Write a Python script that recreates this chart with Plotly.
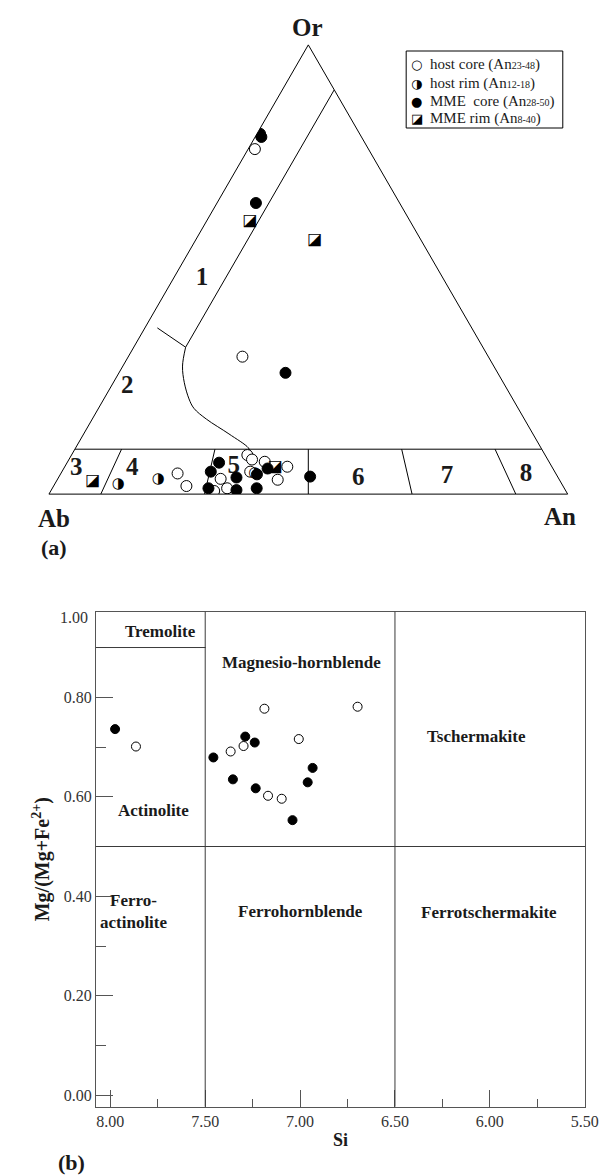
import plotly.graph_objects as go

W, H = 612, 1175

# ---------------- Panel (a): feldspar ternary (values in %, Ab = 100 - Or - An) ----------------
host_core_or = [76.8, 30.6, 4.6, 1.8, 3.4, 0.7, 1.3, 8.7, 7.7, 5.0, 7.2, 6.1, 3.2]
host_core_an = [1.3, 22.0, 22.5, 25.6, 31.4, 31.5, 33.7, 33.9, 35.3, 36.3, 38.0, 42.9, 42.5]
host_rim_or = [2.3, 3.4, 4.6]
host_rim_an = [12.2, 19.4, 37.4]
mme_core_or = [80.2, 79.5, 64.8, 27.0, 7.0, 5.0, 1.3, 0.9, 3.7, 4.4, 5.7, 1.3, 3.9]
mme_core_an = [0.6, 1.2, 7.5, 32.1, 29.3, 28.7, 30.1, 35.7, 34.3, 37.9, 39.3, 39.4, 48.4]
mme_rim_or = [60.9, 56.5, 2.9, 6.1]
mme_rim_an = [8.3, 23.0, 7.0, 40.6]

# field boundaries
plag_or_limit = 10.0
plag_an_divisions = [10, 30, 50, 70, 90]
san_an = 10.0
san_or_range = [90.0, 32.7]
tick_or = [37.0, 32.7]
tick_an = [2.4, 10.0]
curve_or = [32.7, 28.5, 24.8, 21.2, 19.1, 16.7, 13.4, 10.3, 9.5]
curve_an = [10.0, 11.5, 13.7, 16.4, 18.4, 22.0, 28.0, 33.3, 34.0]

field_names = ["1", "2", "3", "4", "5", "6", "7", "8"]
field_or = [48.0, 23.8, 5.7, 5.7, 6.1, 3.5, 3.9, 4.3]
field_an = [5.5, 3.2, 2.4, 13.2, 32.6, 57.9, 74.8, 89.8]

legend_labels = ["host core (An<span style='font-size:10px'>23-48</span>)",
                 "host rim (An<span style='font-size:10px'>12-18</span>)",
                 "MME  core (An<span style='font-size:10px'>28-50</span>)",
                 "MME rim (An<span style='font-size:10px'>8-40</span>)"]
legend_glyphs = ["○", "◑", "●", "◪"]

# ---------------- Panel (b): amphibole classification ----------------
mme_si = [7.975, 7.457, 7.289, 7.239, 7.354, 7.234, 7.040, 6.934, 6.960]
mme_mg = [0.736, 0.679, 0.721, 0.709, 0.635, 0.617, 0.553, 0.658, 0.629]
host_si = [7.865, 7.366, 7.298, 7.188, 7.169, 7.097, 7.007, 6.697]
host_mg = [0.701, 0.691, 0.702, 0.777, 0.602, 0.596, 0.716, 0.781]

si_bounds = [7.5, 6.5]
mg_bound = 0.5
tremolite_bound = 0.9

region_names = ["Tremolite", "Magnesio-hornblende", "Tschermakite", "Actinolite",
                "Ferro-<br>actinolite", "Ferrohornblende", "Ferrotschermakite"]
region_si = [7.737, 6.990, 6.072, 7.774, 7.88, 6.996, 6.007]
region_mg = [0.932, 0.870, 0.721, 0.572, 0.37, 0.370, 0.368]

x_tickvals = [8.0, 7.5, 7.0, 6.5, 6.0, 5.5]
y_tickvals = [0.0, 0.2, 0.4, 0.6, 0.8, 1.0]

SERIF = "Liberation Serif"
SYM = "DejaVu Sans"

fig = go.Figure()


def ab(or_list, an_list):
    return [100 - o - a for o, a in zip(or_list, an_list)]


line_style = dict(color="black", width=1)

# plagioclase strip top line
fig.add_trace(go.Scatterternary(a=[plag_or_limit, plag_or_limit], c=[0, 100 - plag_or_limit],
                                b=[100 - plag_or_limit, 0], mode="lines", line=line_style,
                                showlegend=False, hoverinfo="skip"))
# plagioclase dividers (converge on Or apex)
for an0 in plag_an_divisions:
    a_vals = [0, plag_or_limit]
    c_vals = [an0, an0 * (100 - plag_or_limit) / 100]
    fig.add_trace(go.Scatterternary(a=a_vals, c=c_vals, b=ab(a_vals, c_vals), mode="lines",
                                    line=line_style, showlegend=False, hoverinfo="skip"))
# sanidine boundary
c_vals = [san_an, san_an]
fig.add_trace(go.Scatterternary(a=san_or_range, c=c_vals, b=ab(san_or_range, c_vals), mode="lines",
                                line=line_style, showlegend=False, hoverinfo="skip"))
fig.add_trace(go.Scatterternary(a=tick_or, c=tick_an, b=ab(tick_or, tick_an), mode="lines",
                                line=line_style, showlegend=False, hoverinfo="skip"))
fig.add_trace(go.Scatterternary(a=curve_or, c=curve_an, b=ab(curve_or, curve_an), mode="lines",
                                line=dict(color="black", width=1, shape="spline"),
                                showlegend=False, hoverinfo="skip"))

# field numbers
fig.add_trace(go.Scatterternary(a=field_or, c=field_an, b=ab(field_or, field_an), mode="text",
                                text=[f"<b>{n}</b>" for n in field_names], textposition="middle center",
                                textfont=dict(family=SERIF, size=25, color="#1a1a1a"),
                                showlegend=False, hoverinfo="skip"))

# data points
fig.add_trace(go.Scatterternary(a=host_core_or, c=host_core_an, b=ab(host_core_or, host_core_an),
                                mode="markers", marker=dict(symbol="circle", size=11, color="white",
                                                            line=dict(color="black", width=1)),
                                showlegend=False))
fig.add_trace(go.Scatterternary(a=mme_core_or, c=mme_core_an, b=ab(mme_core_or, mme_core_an),
                                mode="markers", marker=dict(symbol="circle", size=11, color="black",
                                                            line=dict(color="black", width=1)),
                                showlegend=False))
fig.add_trace(go.Scatterternary(a=host_rim_or, c=host_rim_an, b=ab(host_rim_or, host_rim_an),
                                mode="text", text=[legend_glyphs[1]] * len(host_rim_or),
                                textposition="middle center",
                                textfont=dict(family=SYM, size=15, color="black"), showlegend=False))
fig.add_trace(go.Scatterternary(a=mme_rim_or, c=mme_rim_an, b=ab(mme_rim_or, mme_rim_an),
                                mode="text", text=[legend_glyphs[3]] * len(mme_rim_or),
                                textposition="middle center",
                                textfont=dict(family=SYM, size=16, color="black"), showlegend=False))

axis_t = dict(showticklabels=False, ticks="", showgrid=False, showline=True,
              linecolor="black", linewidth=1, title=dict(text=""))

# ---------------- Panel (b) traces ----------------
fig.add_trace(go.Scatter(x=host_si, y=host_mg, mode="markers", xaxis="x", yaxis="y",
                         marker=dict(symbol="circle", size=9, color="white",
                                     line=dict(color="black", width=1)), showlegend=False))
fig.add_trace(go.Scatter(x=mme_si, y=mme_mg, mode="markers", xaxis="x", yaxis="y",
                         marker=dict(symbol="circle", size=9, color="black",
                                     line=dict(color="black", width=1)), showlegend=False))

shapes = []
bcol = "#3a3a3a"
for s in si_bounds:
    shapes.append(dict(type="line", xref="x", yref="y domain", x0=s, x1=s, y0=0, y1=1,
                       line=dict(color=bcol, width=1)))
shapes.append(dict(type="line", xref="x domain", yref="y", x0=0, x1=1, y0=mg_bound, y1=mg_bound,
                   line=dict(color=bcol, width=1)))
shapes.append(dict(type="line", xref="x domain", yref="y", x0=0, y0=tremolite_bound,
                   x1=0.2243, y1=tremolite_bound, line=dict(color=bcol, width=1)))
# legend box
shapes.append(dict(type="rect", xref="paper", yref="paper", x0=415 / W, x1=575 / W,
                   y0=1 - 128 / H, y1=1 - 51 / H, line=dict(color="black", width=1),
                   fillcolor="white", layer="below"))

annotations = []
for i, (g, t) in enumerate(zip(legend_glyphs, legend_labels)):
    yy = 1 - (65 + 18 * i) / H
    annotations.append(dict(xref="paper", yref="paper", x=426 / W, y=yy, text=g, showarrow=False,
                            font=dict(family=SYM, size=13, color="black"), xanchor="center",
                            yanchor="middle"))
    annotations.append(dict(xref="paper", yref="paper", x=437 / W, y=yy, text=t, showarrow=False,
                            font=dict(family=SERIF, size=15, color="#1a1a1a"), xanchor="left",
                            yanchor="middle"))

# corner labels and panel labels
for txt, px, py in [("Or", 314, 28), ("Ab", 55, 518), ("An", 572, 516)]:
    annotations.append(dict(xref="paper", yref="paper", x=px / W, y=1 - py / H, text=f"<b>{txt}</b>",
                            showarrow=False, font=dict(family=SERIF, size=25, color="#1a1a1a"),
                            xanchor="center", yanchor="middle"))
for txt, px, py in [("(a)", 55, 548), ("(b)", 73, 1162)]:
    annotations.append(dict(xref="paper", yref="paper", x=px / W, y=1 - py / H, text=f"<b>{txt}</b>",
                            showarrow=False, font=dict(family=SERIF, size=22, color="#1a1a1a"),
                            xanchor="center", yanchor="middle"))

for name, sx, my in zip(region_names, region_si, region_mg):
    annotations.append(dict(xref="x", yref="y", x=sx, y=my, text=f"<b>{name}</b>", showarrow=False,
                            font=dict(family=SERIF, size=17, color="#1a1a1a"),
                            xanchor="center", yanchor="middle"))
# top tick label (edge of frame)
annotations.append(dict(xref="paper", yref="paper", x=92 / W, y=1 - 617 / H,
                        text=f"{y_tickvals[-1]:.2f}", showarrow=False,
                        font=dict(family=SERIF, size=16, color="#333"), xanchor="right",
                        yanchor="middle"))

fig.update_layout(
    width=W, height=H, margin=dict(l=0, r=0, t=0, b=0),
    paper_bgcolor="white", plot_bgcolor="white", showlegend=False,
    ternary=dict(domain=dict(x=[50 / W, 580 / W], y=[1 - 499 / H, 1 - 40 / H]), sum=100,
                 bgcolor="rgba(0,0,0,0)", aaxis=axis_t, baxis=axis_t, caxis=axis_t),
    xaxis=dict(domain=[98 / W, 598 / W], range=[8.076, 5.497], anchor="y",
               tickmode="array", tickvals=x_tickvals, ticktext=[f"{v:.2f}" for v in x_tickvals],
               ticks="inside", ticklen=17, tickcolor="#555", showgrid=False, zeroline=False,
               showline=True, linecolor="#555", linewidth=1, mirror=True,
               tickfont=dict(family=SERIF, size=16, color="#333"),
               minor=dict(tickvals=[7.75, 7.25, 6.75, 6.25, 5.75], ticks="inside", ticklen=8,
                          tickcolor="#555", showgrid=False),
               title=dict(text="<b>Si</b>", font=dict(family=SERIF, size=18, color="#1a1a1a"),
                          standoff=4)),
    yaxis=dict(domain=[1 - 1106.7 / H, 1 - 611.7 / H], range=[-0.023, 0.972], anchor="x",
               tickmode="array", tickvals=y_tickvals[:-1], ticktext=[f"{v:.2f}" for v in y_tickvals[:-1]],
               ticks="inside", ticklen=17, tickcolor="#555", showgrid=False, zeroline=False,
               showline=True, linecolor="#555", linewidth=1, mirror=True,
               tickfont=dict(family=SERIF, size=16, color="#333"),
               minor=dict(tickvals=[0.1, 0.3, 0.5, 0.7, 0.9], ticks="inside", ticklen=10,
                          tickcolor="#555", showgrid=False),
               title=dict(text="<b>Mg/(Mg+Fe<sup>2+</sup>)</b>",
                          font=dict(family=SERIF, size=20, color="#1a1a1a"), standoff=8)),
    shapes=shapes, annotations=annotations,
)

fig.write_html("out.html")
